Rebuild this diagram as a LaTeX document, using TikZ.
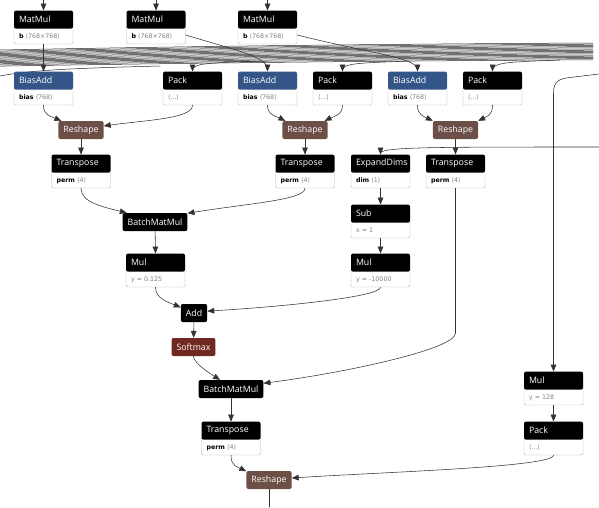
\documentclass[tikz,border=0pt]{standalone}
\usepackage{fontspec}
\setmainfont{Open Sans}
\newfontfamily\symfont{DejaVu Sans}
\usetikzlibrary{arrows, calc, positioning}
\definecolor{layerblue}{RGB}{51,85,136}
\definecolor{shapebrown}{RGB}{108,79,71}
\definecolor{actred}{RGB}{112,41,33}

\begin{document}
\begin{tikzpicture}[line cap=round,line join=round,>=triangle 45,x=1pt,y=-1pt,
  op/.style={fill=black,text=white,rounded corners=2pt,minimum width=59pt,minimum height=18pt,inner sep=0pt,text width=49pt,align=left,font=\fontsize{8.8}{9}\selectfont},
  attr/.style={draw=gray!60,fill=white,rounded corners=2pt,minimum width=59pt,minimum height=18pt,inner sep=0pt,text width=49pt,align=left,text height=6.5pt,text depth=0pt,font=\symfont\fontsize{6.3}{7}\selectfont},
  box/.style={fill=black,text=white,rounded corners=2pt,minimum height=18pt,inner xsep=5pt,inner ysep=0pt,font=\fontsize{8.8}{9}\selectfont},
  edge/.style={->,draw=black!80,line width=0.55pt},
  bundle/.style={draw=black!85,line width=0.5pt}]
\useasboundingbox (0,0) rectangle (599,507);

\coordinate (in1) at (43.5,0);
\coordinate (in2) at (156,0);
\coordinate (in3) at (267.5,0);
\coordinate (rin1) at (599,147);
\coordinate (rin2) at (599,74);
\coordinate (lin) at (0,76);
\coordinate (out) at (269,507);

\foreach \i in {0,...,14}
  \draw[bundle] (0,{50+1.15*\i}) .. controls (200,{46+1.2*\i}) and (400,{44+1.2*\i}) .. (593,{43+1.2*\i});
\draw[bundle] (lin) .. controls (30,70) and (80,68) .. (160,66);

\node[attr] (mm1a) at (43.5,35) {\textbf{b} \textcolor{gray}{⟨768×768⟩}};
\node[op, above=-3pt of mm1a] (mm1) {MatMul};
\node[attr] (mm2a) at (156,35) {\textbf{b} \textcolor{gray}{⟨768×768⟩}};
\node[op, above=-3pt of mm2a] (mm2) {MatMul};
\node[attr] (mm3a) at (267.5,35) {\textbf{b} \textcolor{gray}{⟨768×768⟩}};
\node[op, above=-3pt of mm3a] (mm3) {MatMul};

\node[attr] (ba1a) at (43.5,96) {\textbf{bias} \textcolor{gray}{⟨768⟩}};
\node[op, fill=layerblue, above=-3pt of ba1a] (ba1) {BiasAdd};
\node[attr] (pk1a) at (192.5,96) {\textcolor{gray}{⟨...⟩}};
\node[op, above=-3pt of pk1a] (pk1) {Pack};
\node[attr] (ba2a) at (267.5,96) {\textbf{bias} \textcolor{gray}{⟨768⟩}};
\node[op, fill=layerblue, above=-3pt of ba2a] (ba2) {BiasAdd};
\node[attr] (pk2a) at (342.5,96) {\textcolor{gray}{⟨...⟩}};
\node[op, above=-3pt of pk2a] (pk2) {Pack};
\node[attr] (ba3a) at (417.5,96) {\textbf{bias} \textcolor{gray}{⟨768⟩}};
\node[op, fill=layerblue, above=-3pt of ba3a] (ba3) {BiasAdd};
\node[attr] (pk3a) at (492.5,96) {\textcolor{gray}{⟨...⟩}};
\node[op, above=-3pt of pk3a] (pk3) {Pack};

\node[box, fill=shapebrown] (rs1) at (81,130) {Reshape};
\node[box, fill=shapebrown] (rs2) at (305,130) {Reshape};
\node[box, fill=shapebrown] (rs3) at (455.5,130) {Reshape};

\node[attr] (tr1a) at (81,179) {\textbf{perm} \textcolor{gray}{⟨4⟩}};
\node[op, above=-3pt of tr1a] (tr1) {Transpose};
\node[attr] (tr2a) at (305,179) {\textbf{perm} \textcolor{gray}{⟨4⟩}};
\node[op, above=-3pt of tr2a] (tr2) {Transpose};
\node[attr] (eda) at (380.5,179) {\textbf{dim} \textcolor{gray}{⟨1⟩}};
\node[op, above=-3pt of eda] (ed) {ExpandDims};
\node[attr] (tr3a) at (455.5,179) {\textbf{perm} \textcolor{gray}{⟨4⟩}};
\node[op, above=-3pt of tr3a] (tr3) {Transpose};

\node[box] (bmm1) at (155,222) {BatchMatMul};
\node[attr] (suba) at (380.5,229) {\textcolor{gray}{x = 1}};
\node[op, above=-3pt of suba] (sub) {Sub};
\node[attr] (mul1a) at (155.5,278) {\textcolor{gray}{y = 0.125}};
\node[op, above=-3pt of mul1a] (mul1) {Mul};
\node[attr] (mul2a) at (380.5,278) {\textcolor{gray}{y = -10000}};
\node[op, above=-3pt of mul2a] (mul2) {Mul};

\node[box] (add) at (194,313) {Add};
\node[box, fill=actred] (sm) at (193.5,347) {Softmax};
\node[box] (bmm2) at (231,389) {BatchMatMul};

\node[attr] (mul3a) at (553.5,396) {\textcolor{gray}{y = 128}};
\node[op, above=-3pt of mul3a] (mul3) {Mul};
\node[attr] (tr4a) at (231,446) {\textbf{perm} \textcolor{gray}{⟨4⟩}};
\node[op, above=-3pt of tr4a] (tr4) {Transpose};
\node[attr] (pk4a) at (553.5,446) {\textcolor{gray}{⟨...⟩}};
\node[op, above=-3pt of pk4a] (pk4) {Pack};
\node[box, fill=shapebrown] (rs4) at (269,480) {Reshape};

\draw[edge] (in1) -- (mm1.north);
\draw[edge] (in2) -- (mm2.north);
\draw[edge] (in3) -- (mm3.north);
\draw[edge] (mm1a.south) -- (ba1.north);
\draw[edge] (mm2a.east) .. controls +(60,18) and +(0,-14) .. (ba2.north);
\draw[edge] (mm3a.east) .. controls +(80,20) and +(0,-14) .. (ba3.north);
\draw[edge] (260,61) .. controls (210,63) and (192.5,63) .. (pk1.north);
\draw[edge] (410,61) .. controls (360,63) and (342.5,63) .. (pk2.north);
\draw[edge] (560,60) .. controls (510,62) and (492.5,62) .. (pk3.north);

\draw[edge] (ba1a.south) .. controls +(0,10) and +(-12,-5) .. (rs1.155);
\draw[edge] (pk1a.south) .. controls +(0,14) and +(40,-6) .. (rs1.10);
\draw[edge] (ba2a.south) .. controls +(0,10) and +(-10,-5) .. (rs2.155);
\draw[edge] (pk2a.south) .. controls +(0,10) and +(10,-5) .. (rs2.25);
\draw[edge] (ba3a.south) .. controls +(0,10) and +(-10,-5) .. (rs3.158);
\draw[edge] (pk3a.south) .. controls +(0,10) and +(10,-5) .. (rs3.22);
\draw[edge] (rs1) -- (tr1.north);
\draw[edge] (rs2) -- (tr2.north);
\draw[edge] (rs3) -- (tr3.north);
\draw[edge] (rin1) .. controls (430,147) and (380.5,147) .. (ed.north);

\draw[edge] (tr1a.south) .. controls +(0,14) and +(-25,-6) .. (bmm1.162);
\draw[edge] (tr2a.south) .. controls +(0,12) and +(60,-10) .. (bmm1.15);
\draw[edge] (eda.south) -- (sub.north);
\draw[edge] (suba.south) -- (mul2.north);
\draw[edge] (bmm1) -- (mul1.north);
\draw[edge] (mul1a.south) .. controls +(0,12) and +(-12,-5) .. (add.157);
\draw[edge] (mul2a.south) .. controls +(0,10) and +(70,-4) .. (add.8);
\draw[edge] (add) -- (sm);
\draw[edge] (sm) .. controls +(0,16) and +(-10,-6) .. (bmm2.140);
\draw[edge] (tr3a.south) -- ++(0,145) .. controls +(0,16) and +(80,-10) .. (bmm2.10);
\draw[edge] (rin2) -- (566,78) .. controls (556,80) and (553.5,84) .. (553.5,94) -- (mul3.north);
\draw[edge] (bmm2) -- (tr4.north);
\draw[edge] (mul3a.south) -- (pk4.north);
\draw[edge] (tr4a.south) .. controls +(0,11) and +(-10,-5) .. (rs4.159);
\draw[edge] (pk4a.south) .. controls +(0,12) and +(90,-6) .. (rs4.5);
\draw[draw=black!80,line width=0.55pt] (rs4) -- (out);
\end{tikzpicture}
\end{document}
